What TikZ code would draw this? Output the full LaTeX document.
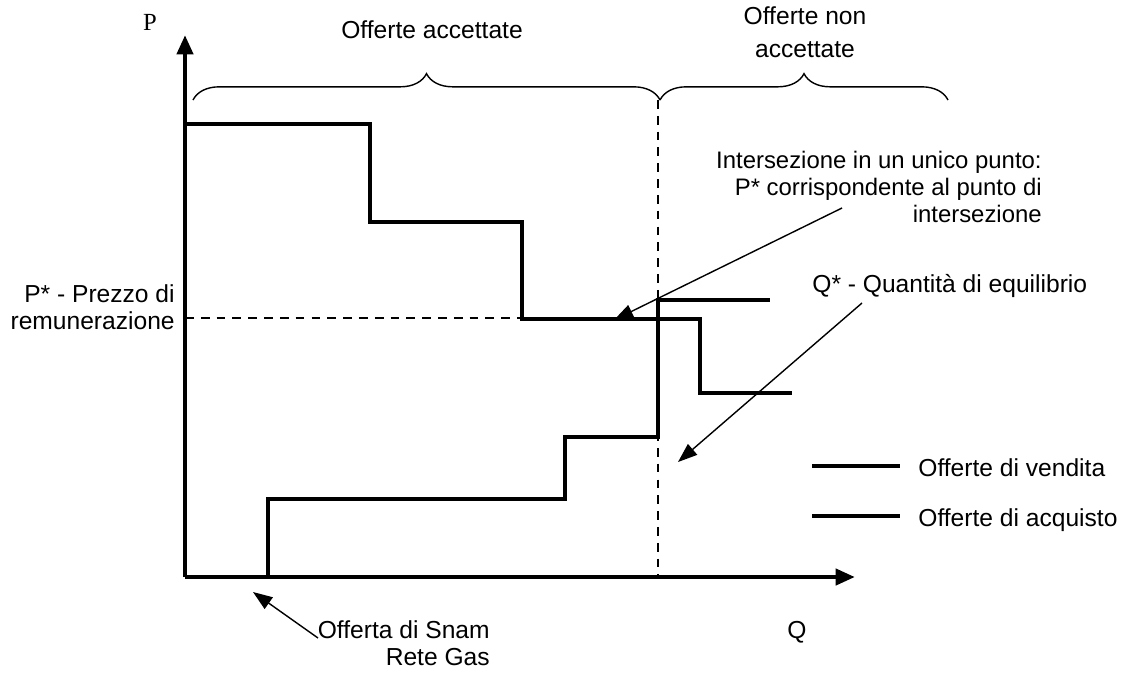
\documentclass[tikz,border=0pt]{standalone}
\usepackage{fontspec}
\setmainfont{Liberation Sans}
\newfontfamily\serifP{Liberation Serif}
\usetikzlibrary{arrows.meta,decorations.pathreplacing}
\begin{document}
\begin{tikzpicture}[x=0.02cm,y=-0.02cm,
  txt/.style={font=\fontsize{14}{15.5}\selectfont, inner sep=0pt},
  curve/.style={line width=2.4pt, line join=miter},
  axis/.style={line width=2.6pt, -{Triangle[length=11pt,width=9pt]}},
  ann/.style={line width=0.8pt, -{Triangle[length=11pt,width=8pt]}},
  guide/.style={line width=0.7pt, dash pattern=on 5pt off 4pt},
  bracestyle/.style={line width=0.8pt, decorate, decoration={brace, amplitude=15pt}}]

\useasboundingbox (0,0) rectangle (1131,677);

% axes
\coordinate (O) at (185,577);
\coordinate (Ptop) at (185,35);
\coordinate (Qend) at (855,577);
\draw[axis] (O) -- (Ptop);
\draw[axis] (O) -- (Qend);
\node[txt, font=\serifP\fontsize{14}{15.5}\selectfont] (P) at (150,22) {P};
\node[txt] (Q) at (797,632) {Q};

% braces
\coordinate (b1) at (193,100);
\coordinate (b2) at (660,100);
\coordinate (b3) at (948,100);
\draw[bracestyle] (b1) -- (b2);
\draw[bracestyle] (b2) -- (b3);
\node[txt] (acc) at (432,30) {Offerte accettate};
\node[txt, align=center, font=\fontsize{14}{18.5}\selectfont] (nonacc) at (805,32) {Offerte non\\accettate};

% guides
\coordinate (qtop) at (658,100);
\coordinate (qbot) at (658,577);
\coordinate (pleft) at (185,318);
\coordinate (pright) at (522,318);
\draw[guide] (qtop) -- (qbot);
\draw[guide] (pleft) -- (pright);

% selling offers (descending)
\draw[curve] (185,124) -- (370,124) -- (370,222) -- (522,222) -- (522,319)
  -- (700,319) -- (700,393) -- (792,393);
% buying offers (ascending)
\draw[curve] (268,577) -- (268,499) -- (565,499) -- (565,437) -- (658,437)
  -- (658,300) -- (770,300);

% labels
\node[txt, align=right, anchor=east, font=\fontsize{13.6}{15.5}\selectfont] (inter) at (1042,187)
  {Intersezione in un unico punto:\\P* corrispondente al punto di\\intersezione};
\node[txt, anchor=west] (qstar) at (812,286) {Q* - Quantità di equilibrio};
\node[txt, align=right, anchor=east] (pstar) at (175,307) {P* - Prezzo di\\remunerazione};
\node[txt, align=right, anchor=east] (snam) at (490,643) {Offerta di Snam\\Rete Gas};

% annotation arrows
\coordinate (interA) at (842,208);
\coordinate (interB) at (614,320);
\draw[ann] (interA) -- (interB);
\coordinate (qA) at (862,303);
\coordinate (qB) at (678,462);
\draw[ann] (qA) -- (qB);
\coordinate (sA) at (318,638);
\coordinate (sB) at (253,592);
\draw[ann] (sA) -- (sB);

% legend
\coordinate (l1a) at (812,466);
\coordinate (l1b) at (900,466);
\coordinate (l2a) at (812,516);
\coordinate (l2b) at (900,516);
\draw[curve] (l1a) -- (l1b);
\draw[curve] (l2a) -- (l2b);
\node[txt, anchor=west] (leg1) at (918,468) {Offerte di vendita};
\node[txt, anchor=west] (leg2) at (918,520) {Offerte di acquisto};
\end{tikzpicture}
\end{document}
